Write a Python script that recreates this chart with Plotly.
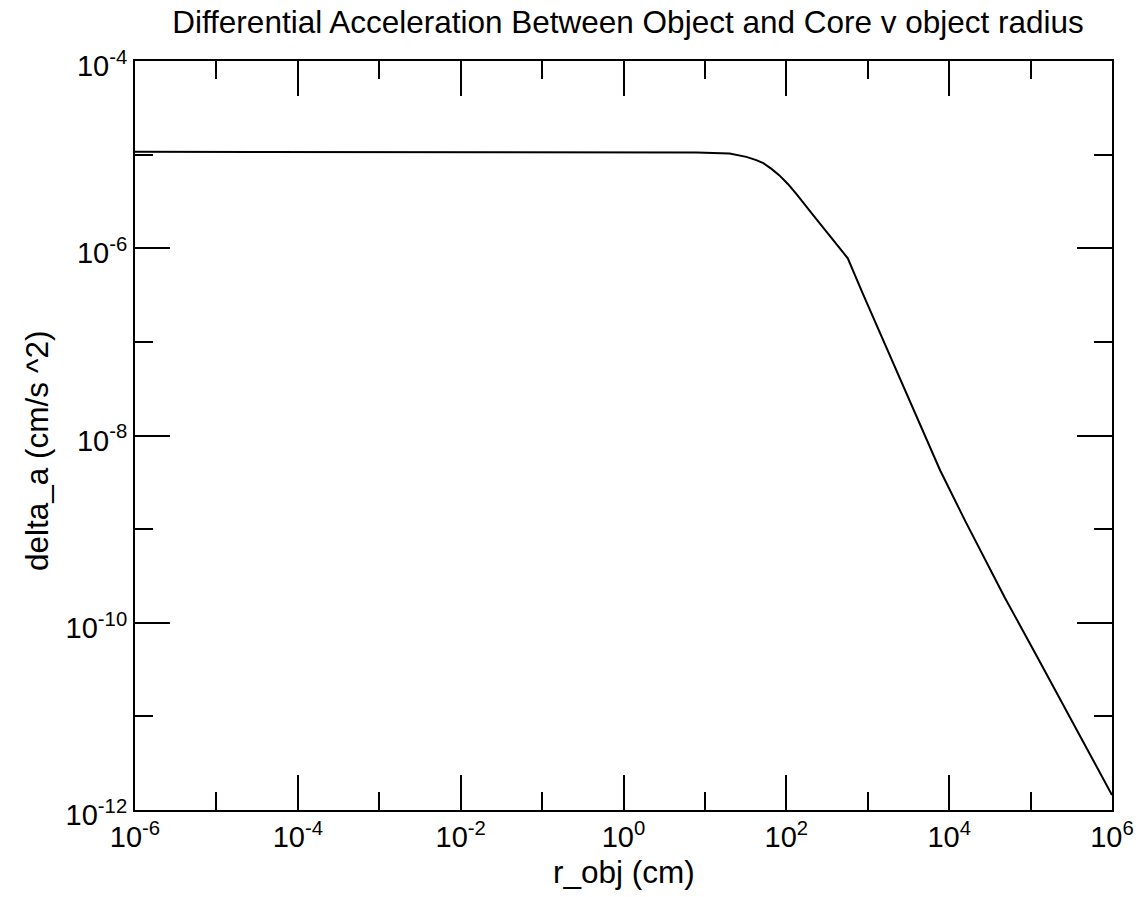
import plotly.graph_objects as go

# Data (radius in cm, differential acceleration in cm/s^2)
r_obj = [1e-6, 10**-0.322, 10**0.899, 10**1.302, 10**1.509, 10**1.631, 10**1.717,
         10**1.814, 10**1.912, 10**2.022, 10**2.120, 10**2.327, 10**2.523, 10**2.755,
         10**2.938, 10**3.243, 10**3.499, 10**3.609, 10**3.890, 10**4.195, 10**4.513,
         10**4.684, 10**5.087, 10**5.502, 1e6]
delta_a = [10**-4.970, 10**-4.973, 10**-4.976, 10**-4.989, 10**-5.024, 10**-5.059, 10**-5.091,
           10**-5.150, 10**-5.219, 10**-5.316, 10**-5.417, 10**-5.643, 10**-5.856, 10**-6.107,
           10**-6.481, 10**-7.091, 10**-7.604, 10**-7.829, 10**-8.374, 10**-8.909, 10**-9.444,
           10**-9.733, 10**-10.374, 10**-11.037, 10**-11.840]

x_major = [1e-6, 1e-4, 1e-2, 1e0, 1e2, 1e4, 1e6]
x_major_text = ["10<sup>-6</sup>", "10<sup>-4</sup>", "10<sup>-2</sup>", "10<sup>0</sup>",
                "10<sup>2</sup>", "10<sup>4</sup>", "10<sup>6</sup>"]
x_minor = [1e-5, 1e-3, 1e-1, 1e1, 1e3, 1e5]
y_major = [1e-12, 1e-10, 1e-8, 1e-6, 1e-4]
y_major_text = ["10<sup>-12</sup>", "10<sup>-10</sup>", "10<sup>-8</sup>", "10<sup>-6</sup>",
                "10<sup>-4</sup>"]
y_minor = [1e-11, 1e-9, 1e-7, 1e-5]

FONT = "Liberation Sans, Arial, Helvetica, sans-serif"

fig = go.Figure()
fig.add_trace(go.Scatter(x=r_obj, y=delta_a, mode="lines",
                         line=dict(color="black", width=2), showlegend=False))

axis_common = dict(
    type="log", showgrid=False, zeroline=False, showline=True, linecolor="black",
    linewidth=2, mirror="ticks", ticks="inside", ticklen=35, tickwidth=2,
    tickcolor="black", tickfont=dict(family=FONT, size=29, color="black"),
)

fig.update_xaxes(
    **axis_common,
    range=[-6, 6], tickmode="array", tickvals=x_major, ticktext=x_major_text,
    minor=dict(tickmode="array", tickvals=x_minor, ticks="inside", ticklen=18,
               tickwidth=2, tickcolor="black", showgrid=False),
)
fig.update_yaxes(
    **axis_common,
    range=[-12, -4], tickmode="array", tickvals=y_major, ticktext=y_major_text,
    ticklabelshift=5,
    minor=dict(tickmode="array", tickvals=y_minor, ticks="inside", ticklen=18,
               tickwidth=2, tickcolor="black", showgrid=False),
)

fig.update_layout(
    width=1146, height=897,
    margin=dict(l=135, r=28, t=61, b=87),
    paper_bgcolor="white", plot_bgcolor="white",
    title=dict(text="Differential Acceleration Between Object and Core v object radius",
               x=0.548, xanchor="center", y=0.975, yanchor="middle",
               font=dict(family=FONT, size=31.5, color="black")),
    annotations=[
        dict(text="r_obj (cm)", xref="paper", yref="paper", x=0.5, y=-0.083,
             xanchor="center", yanchor="middle", showarrow=False,
             font=dict(family=FONT, size=31.5, color="black")),
        dict(text="delta_a (cm/s ^2)", xref="paper", yref="paper", x=-0.0997, y=0.48,
             xanchor="center", yanchor="middle", showarrow=False, textangle=-90,
             font=dict(family=FONT, size=31.5, color="black")),
    ],
)

fig.write_html("out.html")
